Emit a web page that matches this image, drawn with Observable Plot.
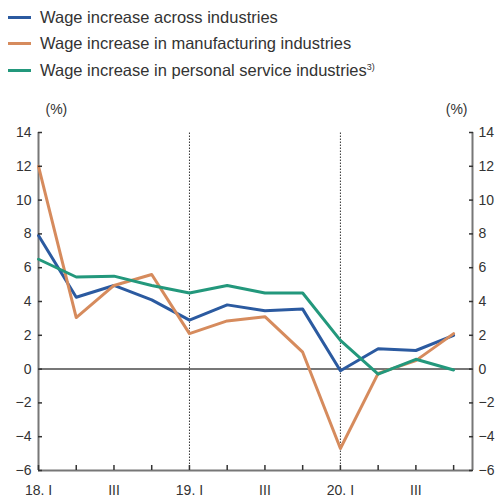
<!DOCTYPE html>
<html>
<head>
<meta charset="utf-8">
<script src="https://cdn.jsdelivr.net/npm/d3@7"></script>
<script src="https://cdn.jsdelivr.net/npm/@observablehq/plot@0.6"></script>
<style>
  body { margin: 0; background: #fff; font-family: "Liberation Sans", Arial, sans-serif; }
  #wrap { width: 497px; height: 500px; position: relative; overflow: hidden; }
  #legend { position: relative; height: 90px; }
  .row { position: absolute; left: 0; height: 20px; display: flex; align-items: center; font-size: 16.5px; color: #333; white-space: nowrap; }
  .sw { width: 23px; height: 3px; margin-left: 8px; margin-right: 9px; }
  sup { font-size: 9px; vertical-align: 6px; line-height: 0; }
  #chart svg { display: block; }
</style>
</head>
<body>
<div id="wrap">
  <div id="legend"></div>
  <div id="chart"></div>
</div>
<script>
// ---- data ----
const quarters = ["18. I","18. II","18. III","18. IV","19. I","19. II","19. III","19. IV","20. I","20. II","20. III","20. IV"];
const xLabelIndex = [0, 2, 4, 6, 8, 10];
const xLabels = ["18. I", "III", "19. I", "III", "20. I", "III"];
const yTicks = [-6, -4, -2, 0, 2, 4, 6, 8, 10, 12, 14];
const seriesNames = [
  "Wage increase across industries",
  "Wage increase in manufacturing industries",
  "Wage increase in personal service industries"
];
const seriesNotes = ["", "", "3)"];
const seriesColors = ["#2b5aa0", "#d68b5d", "#23987c"];
const acrossIndustries = [7.9, 4.25, 4.95, 4.1, 2.9, 3.8, 3.45, 3.55, -0.1, 1.2, 1.1, 2.0];
const manufacturing = [12.0, 3.05, 4.95, 5.6, 2.1, 2.85, 3.1, 1.0, -4.7, -0.25, 0.5, 2.1];
const personalService = [6.5, 5.45, 5.5, 4.95, 4.5, 4.95, 4.5, 4.5, 1.7, -0.3, 0.58, -0.05];
const seriesValues = [acrossIndustries, manufacturing, personalService];
const breakLines = [4, 8];

// ---- legend ----
const legend = document.getElementById("legend");
seriesNames.forEach((name, k) => {
  const row = document.createElement("div");
  row.className = "row";
  row.style.top = (7 + k * 26.7) + "px";
  row.innerHTML = `<span class="sw" style="background:${seriesColors[k]}"></span><span>${name}${seriesNotes[k] ? `<sup>${seriesNotes[k]}</sup>` : ""}</span>`;
  legend.appendChild(row);
});

// ---- table ----
const data = [];
seriesNames.forEach((name, k) => {
  seriesValues[k].forEach((v, i) => data.push({ i, quarter: quarters[i], value: v, series: name }));
});

const axisColor = "#777";
const chart = Plot.plot({
  width: 497,
  height: 410,
  marginTop: 42,
  marginBottom: 30,
  marginLeft: 38,
  marginRight: 25,
  style: { fontFamily: "'Liberation Sans', Arial, sans-serif", fontSize: "14px", color: "#333", background: "#fff" },
  x: { domain: [0, quarters.length - 0.5] },
  y: { domain: [-6, 14] },
  color: { domain: seriesNames, range: seriesColors },
  marks: [
    Plot.ruleY([0], { stroke: axisColor, strokeWidth: 2 }),
    Plot.ruleX(breakLines, { y1: -6, y2: 14, stroke: "#333", strokeWidth: 1, strokeDasharray: "1.5,1.5" }),
    Plot.ruleX([0, quarters.length - 0.5], { y1: -6, y2: 14, stroke: axisColor, strokeWidth: 2 }),
    Plot.ruleY([-6], { x1: 0, x2: quarters.length - 0.5, stroke: axisColor, strokeWidth: 2 }),
    Plot.line(data, { x: "i", y: "value", stroke: "series", strokeWidth: 3, z: "series" }),
    Plot.axisY(yTicks, { anchor: "left", tickSize: -4, tickPadding: 11, label: null, stroke: "#333", strokeWidth: 1.5 }),
    Plot.axisY(yTicks, { anchor: "right", tickSize: -4, tickPadding: 10, label: null, stroke: "#333", strokeWidth: 1.5 }),
    Plot.axisX(d3.range(quarters.length), { anchor: "bottom", tickSize: -5, tickFormat: () => "", label: null, stroke: "#333", strokeWidth: 1.5 }),
    Plot.axisX(xLabelIndex, { anchor: "bottom", tickSize: 0, tickPadding: 15, tickFormat: (d) => xLabels[xLabelIndex.indexOf(d)], label: null }),
    Plot.text(["(%)"], { frameAnchor: "top-left", dx: 7, dy: -28, fill: "#333" }),
    Plot.text(["(%)"], { frameAnchor: "top-right", dx: -5, dy: -28, fill: "#333" })
  ]
});
document.getElementById("chart").appendChild(chart);
</script>
</body>
</html>
